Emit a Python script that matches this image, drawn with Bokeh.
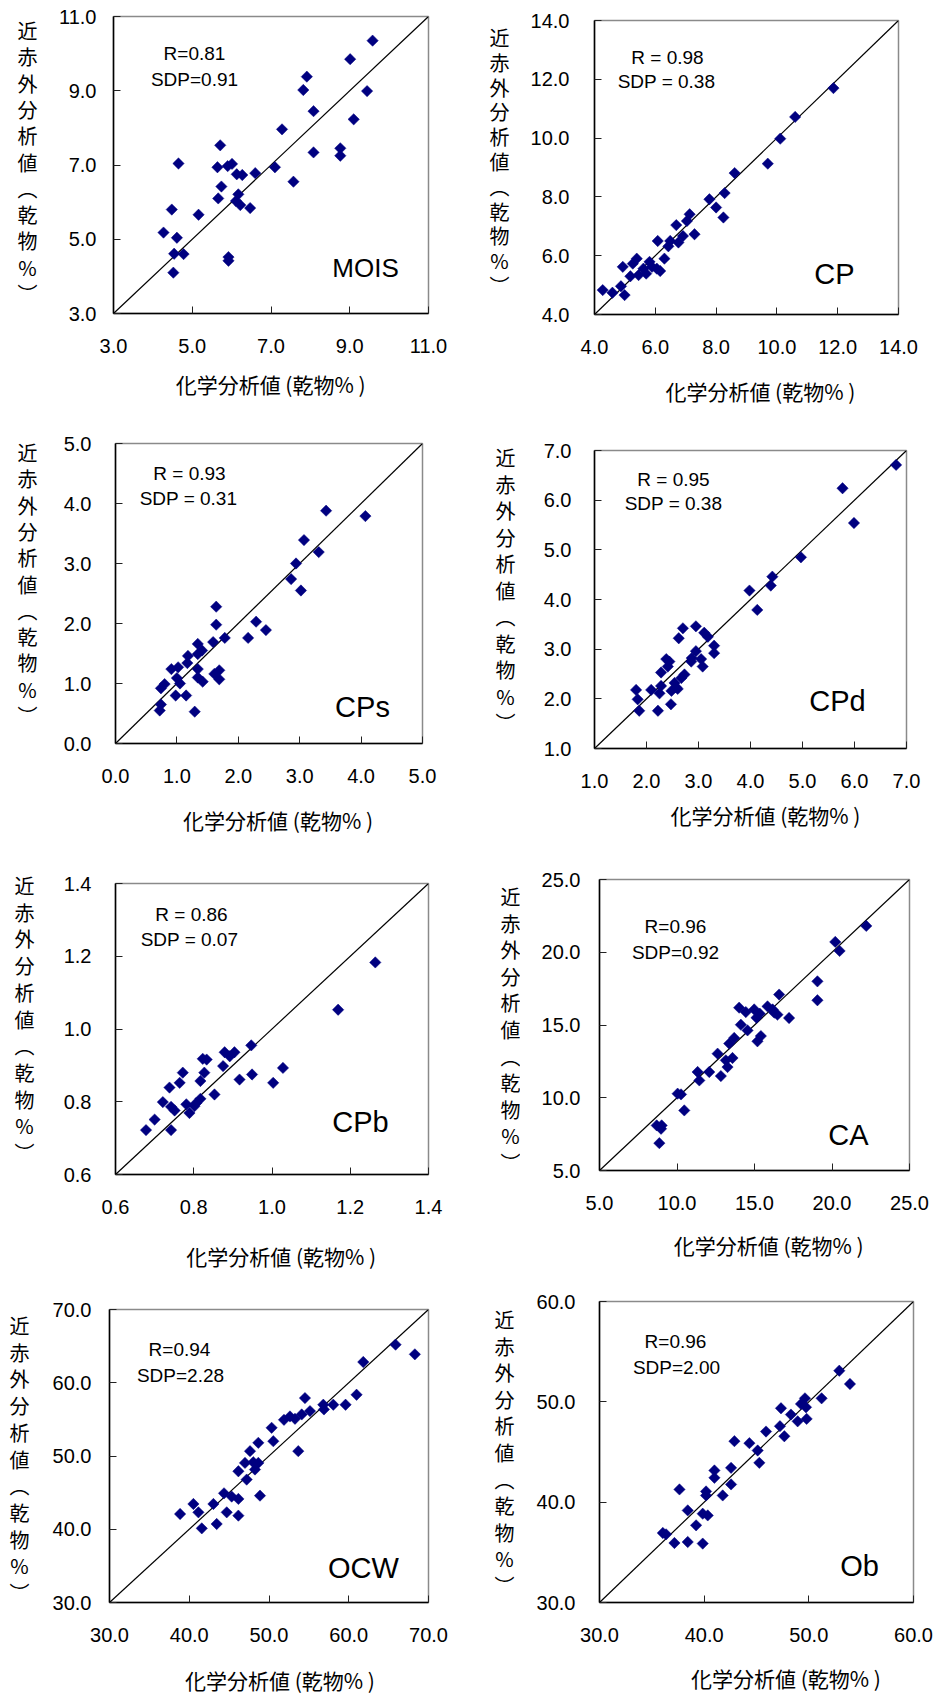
import math
from bokeh.plotting import figure
from bokeh.models import Range1d, FixedTicker, NumeralTickFormatter, Label, ColumnDataSource
from bokeh.layouts import column, row
from bokeh.embed import file_html
from bokeh.resources import INLINE

# ---------------- data (chemical analysis x, NIR prediction y) ----------------
mois_chem = [9.58, 9.01, 7.91, 7.82, 9.44, 8.08, 9.10, 7.28, 5.71, 8.08, 8.76, 8.76, 4.65, 5.64, 5.90, 6.01, 7.10, 6.13,
             6.27, 6.60, 5.74, 7.57, 5.66, 6.17, 6.11, 6.22, 6.47, 4.48, 5.16, 4.27, 4.61, 4.54, 4.78, 5.92, 5.92, 4.52]
mois_nir = [10.35, 9.85, 9.38, 9.02, 8.99, 8.45, 8.23, 7.96, 7.53, 7.34, 7.45, 7.25, 7.04, 6.94, 6.97, 7.03, 6.94, 6.75,
            6.73, 6.78, 6.42, 6.55, 6.10, 6.21, 6.03, 5.92, 5.84, 5.80, 5.66, 5.18, 5.04, 4.61, 4.60, 4.52, 4.42, 4.10]

cp_chem = [11.86, 10.60, 10.11, 9.70, 8.61, 8.28, 7.78, 8.00, 8.24, 7.13, 7.04, 6.69, 7.29, 6.91, 6.76, 6.49, 6.43,
           6.08, 6.30, 5.81, 5.89, 6.05, 6.16, 5.39, 5.26, 4.93, 5.70, 5.45, 5.18, 4.87, 4.27, 4.59, 4.99, 5.61]
cp_nir = [11.70, 10.72, 9.98, 9.13, 8.81, 8.13, 7.92, 7.64, 7.30, 7.41, 7.18, 7.04, 6.73, 6.67, 6.45, 6.50, 6.32,
          6.50, 5.90, 5.79, 5.62, 5.56, 5.48, 5.90, 5.73, 5.62, 5.39, 5.34, 5.30, 4.96, 4.83, 4.74, 4.66, 5.56]

cps_chem = [3.43, 4.07, 3.07, 3.31, 2.94, 2.86, 3.02, 1.64, 1.64, 2.29, 2.45, 2.16, 1.78, 1.59, 1.34, 1.41, 1.34, 1.18,
            1.17, 0.91, 1.02, 1.34, 1.69, 1.61, 1.69, 1.34, 1.42, 1.00, 1.05, 0.80, 0.74, 0.98, 1.15, 0.74, 0.72, 1.29]
cps_nir = [3.88, 3.79, 3.39, 3.19, 3.00, 2.74, 2.55, 2.28, 1.98, 2.03, 1.89, 1.76, 1.76, 1.69, 1.66, 1.55, 1.49, 1.46,
           1.34, 1.24, 1.27, 1.24, 1.22, 1.16, 1.07, 1.10, 1.03, 1.09, 1.00, 0.99, 0.92, 0.80, 0.80, 0.65, 0.55, 0.53]

cpd_chem = [6.80, 5.77, 5.99, 4.97, 4.42, 4.39, 3.98, 4.13, 2.70, 2.95, 3.11, 3.18, 2.62, 3.30, 3.30, 2.95, 2.87, 3.05,
            2.86, 3.08, 2.38, 2.44, 2.41, 2.28, 2.73, 2.67, 2.54, 2.28, 2.57, 2.09, 1.80, 2.25, 2.48, 1.83, 2.47, 1.86,
            2.22, 2.60]
cpd_nir = [6.71, 6.24, 5.54, 4.85, 4.46, 4.28, 4.18, 3.79, 3.42, 3.46, 3.33, 3.25, 3.22, 3.07, 2.92, 2.96, 2.82, 2.80,
           2.75, 2.65, 2.80, 2.75, 2.65, 2.53, 2.49, 2.42, 2.32, 2.26, 2.23, 2.18, 2.18, 2.11, 2.16, 1.99, 1.89, 1.76,
           1.76, 2.20]

cpb_chem = [1.264, 1.169, 0.947, 0.904, 0.879, 0.892, 0.875, 0.823, 0.833, 1.028, 0.772, 0.827, 0.949, 0.917, 1.003,
            0.764, 0.817, 0.738, 0.853, 0.721, 0.781, 0.817, 0.806, 0.742, 0.751, 0.789, 0.700, 0.678, 0.742, 0.802]
cpb_nir = [1.183, 1.053, 0.955, 0.936, 0.936, 0.925, 0.898, 0.918, 0.916, 0.893, 0.880, 0.880, 0.875, 0.861, 0.852,
           0.852, 0.857, 0.839, 0.820, 0.799, 0.793, 0.808, 0.796, 0.786, 0.776, 0.769, 0.751, 0.722, 0.722, 0.788]

ca_chem = [22.21, 20.21, 20.49, 19.06, 19.06, 16.59, 17.23, 15.84, 16.17, 16.48, 16.27, 14.98, 15.34, 15.13, 14.01,
           14.44, 14.12, 14.55, 15.41, 15.19, 13.69, 13.37, 12.62, 13.58, 13.15, 13.26, 12.83, 12.08, 11.33, 11.44,
           10.04, 10.26, 10.47, 8.69, 9.01, 8.97, 8.86]
ca_nir = [21.81, 20.71, 20.09, 18.00, 16.70, 17.09, 15.48, 16.28, 16.07, 15.71, 15.85, 16.07, 15.78, 15.50, 16.19,
          15.89, 15.02, 14.63, 14.24, 13.88, 14.11, 13.72, 13.03, 12.73, 12.57, 12.11, 11.49, 11.77, 11.77, 11.19,
          10.28, 10.23, 9.13, 8.10, 8.10, 7.87, 6.88]

ocw_chem = [65.87, 68.29, 61.82, 60.98, 59.60, 58.06, 56.81, 56.89, 54.51, 55.14, 54.10, 53.26, 52.63, 51.88, 50.33,
            50.54, 48.66, 53.67, 47.62, 46.99, 48.03, 48.66, 48.24, 46.16, 47.20, 44.36, 45.32, 46.16, 48.87, 40.52,
            43.03, 41.15, 38.85, 44.70, 46.16, 43.44, 41.57]
ocw_nir = [65.20, 63.88, 62.83, 58.36, 57.00, 57.00, 57.00, 56.36, 57.91, 56.13, 55.67, 55.08, 55.40, 54.94, 53.85,
           52.02, 51.80, 50.66, 50.66, 49.06, 49.15, 49.06, 48.15, 47.92, 46.78, 44.91, 44.46, 44.14, 44.59, 43.45,
           43.45, 42.31, 42.08, 42.31, 41.86, 40.72, 40.12]

ob_chem = [52.91, 53.93, 51.22, 49.63, 49.25, 49.73, 47.34, 48.29, 48.93, 49.79, 47.24, 47.66, 45.91, 42.89, 44.32,
           45.11, 45.27, 42.57, 40.98, 40.98, 42.57, 37.64, 40.18, 40.18, 41.77, 38.43, 39.86, 40.34, 39.23, 36.05,
           36.36, 37.16, 38.43, 39.86]
ob_nir = [53.10, 51.78, 50.35, 50.35, 49.79, 49.46, 49.36, 48.73, 48.06, 48.30, 47.57, 46.57, 47.04, 46.08, 45.88,
          45.15, 43.92, 43.42, 43.16, 42.43, 41.77, 41.27, 41.07, 40.67, 40.67, 39.18, 38.85, 38.68, 37.69, 36.93,
          36.79, 35.93, 36.03, 35.87]

panel_names = ["MOIS", "CP", "CPs", "CPd", "CPb", "CA", "OCW", "Ob"]
r_texts = ["R=0.81", "R = 0.98", "R = 0.93", "R = 0.95", "R = 0.86", "R=0.96", "R=0.94", "R=0.96"]
sdp_texts = ["SDP=0.91", "SDP = 0.38", "SDP = 0.31", "SDP = 0.38", "SDP = 0.07", "SDP=0.92", "SDP=2.28", "SDP=2.00"]
axis_ranges = [(3.0, 11.0), (4.0, 14.0), (0.0, 5.0), (1.0, 7.0), (0.6, 1.4), (5.0, 25.0), (30.0, 70.0), (30.0, 60.0)]
tick_values = [[3, 5, 7, 9, 11], [4, 6, 8, 10, 12, 14], [0, 1, 2, 3, 4, 5], [1, 2, 3, 4, 5, 6, 7],
               [0.6, 0.8, 1.0, 1.2, 1.4], [5, 10, 15, 20, 25], [30, 40, 50, 60, 70], [30, 40, 50, 60]]
x_title = "化学分析値 (乾物% )"
y_title_chars = ["近", "赤", "外", "分", "析", "値", "︵", "乾", "物", "%", "︶"]

chem_series = [mois_chem, cp_chem, cps_chem, cpd_chem, cpb_chem, ca_chem, ocw_chem, ob_chem]
nir_series = [mois_nir, cp_nir, cps_nir, cpd_nir, cpb_nir, ca_nir, ocw_nir, ob_nir]

# ---------------- layout (page pixels) ----------------
CELL_X = [0, 468]
CELL_W = 468
ROW_Y = [0, 404, 838, 1270]
ROW_H = [404, 434, 432, 423]
YT_W = [45, 52]          # width of the strip holding the vertical y title
BELOW = 50               # space under the frame kept for the tick labels
FRAMES = [(113, 428, 16, 313), (594, 898, 20, 314), (115, 422, 443, 743), (594, 906, 450, 748),
          (115, 428, 883, 1174), (599, 909, 879, 1170), (109, 428, 1309, 1602), (599, 913, 1301, 1602)]
Y_STANDOFF = [17, 25, 24, 23, 24, 19, 18, 24]
X_STANDOFF = 25
R_POS = [(194, 53), (667, 57), (189, 473), (673, 479), (191, 914), (675, 926), (179, 1349), (675, 1341)]
SDP_POS = [(194, 79), (666, 81), (188, 498), (673, 503), (189, 939), (675, 952), (180, 1375), (676, 1367)]
NAME_POS = [(365, 267), (834, 273), (362, 706), (837, 700), (360, 1121), (848, 1134), (363, 1567), (859, 1565)]
NAME_SIZE = [26, 29, 29, 29, 29, 29, 29, 29]
XT_POS = [(256, 383), (747, 390), (269, 819), (748, 814), (269, 1255), (747, 1244), (271, 1679), (767, 1677)]
YT_X = [27, 499, 27, 505, 24, 510, 19, 504]
YT_Y0 = [30, 37, 452, 457, 885, 896, 1325, 1319]
YT_STEP = [26.3, 24.8, 26.3, 26.5, 26.7, 26.6, 26.7, 26.6]

NUM_FONT = "Liberation Sans"
JP_FONT = "Noto Sans CJK JP"
NAVY = "#000080"


def text_strip(w, h):
    """A figure with no axes whose frame fills the canvas: 1 data unit = 1 pixel, y down."""
    f = figure(width=w, height=h, output_backend="svg", toolbar_location=None,
               x_range=Range1d(0, w), y_range=Range1d(h, 0),
               x_axis_location=None, y_axis_location=None, min_border=0)
    f.outline_line_color = None
    f.background_fill_color = "white"
    f.border_fill_color = "white"
    f.xgrid.visible = False
    f.ygrid.visible = False
    return f


def put(f, x, y, text, size, font):
    f.add_layout(Label(x=x, y=y, text=text, text_font=font, text_font_size=f"{size}px",
                       text_align="center", text_baseline="middle", text_color="black"))


cells = []
for i in range(8):
    c, r = i % 2, i // 2
    cx0, cy0, rh = CELL_X[c], ROW_Y[r], ROW_H[r]
    yw = YT_W[c]
    px0 = cx0 + yw
    pw = CELL_W - yw
    L, R, T, B = FRAMES[i]
    ph = B - cy0 + BELOW
    lo, hi = axis_ranges[i]

    p = figure(width=pw, height=ph, output_backend="svg", toolbar_location=None,
               x_range=Range1d(lo, hi), y_range=Range1d(lo, hi),
               min_border_left=L - px0, min_border_right=px0 + pw - R,
               min_border_top=T - cy0, min_border_bottom=BELOW)
    p.background_fill_color = "white"
    p.border_fill_color = "white"
    p.outline_line_color = "#8a8a8a"
    p.outline_line_width = 1.5
    p.xgrid.visible = False
    p.ygrid.visible = False

    for ax, standoff in ((p.xaxis[0], X_STANDOFF), (p.yaxis[0], Y_STANDOFF[i])):
        ax.ticker = FixedTicker(ticks=tick_values[i])
        ax.formatter = NumeralTickFormatter(format="0.0")
        ax.major_tick_in = 7
        ax.major_tick_out = 0
        ax.minor_tick_line_color = None
        ax.major_tick_line_color = "#222222"
        ax.axis_line_color = "black"
        ax.axis_line_width = 1.5
        ax.major_label_text_font = NUM_FONT
        ax.major_label_text_font_size = "20px"
        ax.major_label_text_color = "black"
        ax.major_label_standoff = standoff

    p.line(x=[lo, hi], y=[lo, hi], line_color="black", line_width=1.2)
    src = ColumnDataSource(dict(x=chem_series[i], y=nir_series[i]))
    p.scatter(x="x", y="y", source=src, marker="square", size=8, angle=math.pi / 4,
              fill_color=NAVY, line_color=NAVY, line_width=0.5)

    def dx(px, L=L, R=R, lo=lo, hi=hi):
        return lo + (px - L) / (R - L) * (hi - lo)

    def dy(py, T=T, B=B, lo=lo, hi=hi):
        return lo + (B - py) / (B - T) * (hi - lo)

    put(p, dx(R_POS[i][0]), dy(R_POS[i][1]), r_texts[i], 19, NUM_FONT)
    put(p, dx(SDP_POS[i][0]), dy(SDP_POS[i][1]), sdp_texts[i], 19, NUM_FONT)
    put(p, dx(NAME_POS[i][0]), dy(NAME_POS[i][1]), panel_names[i], NAME_SIZE[i], NUM_FONT)

    # x title strip under the plot
    xh = rh - ph
    xt = text_strip(pw, xh)
    put(xt, XT_POS[i][0] - px0, XT_POS[i][1] - (cy0 + ph), x_title, 21, JP_FONT)

    # vertical y title strip left of the plot
    yt = text_strip(yw, rh)
    for k, ch in enumerate(y_title_chars):
        put(yt, YT_X[i] - cx0, YT_Y0[i] + k * YT_STEP[i] - cy0, ch, 20, JP_FONT)

    cells.append(row(yt, column(p, xt)))

layout = column(row(cells[0], cells[1]), row(cells[2], cells[3]),
                row(cells[4], cells[5]), row(cells[6], cells[7]))

open("out.html", "w").write(file_html(layout, INLINE))
